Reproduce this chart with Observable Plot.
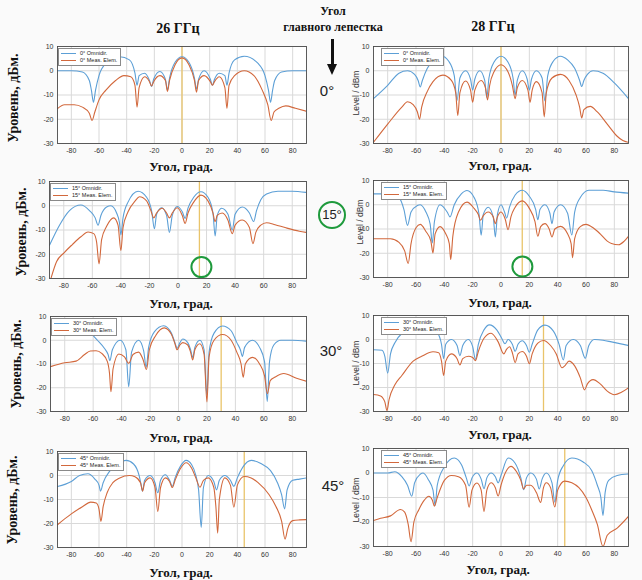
<!DOCTYPE html>
<html><head><meta charset="utf-8">
<script src="https://cdn.jsdelivr.net/npm/d3@7"></script>
<script src="https://cdn.jsdelivr.net/npm/@observablehq/plot@0.6"></script>
<style>
body{margin:0;background:#fafafa;}
#root{position:relative;width:642px;height:580px;overflow:hidden;background:#fafafa;}
.t{position:absolute;white-space:nowrap;transform:translate(-50%,-50%);color:#111;}
.serif{font-family:"Liberation Serif","DejaVu Serif",serif;font-weight:bold;}
.sans{font-family:"Liberation Sans",Arial,sans-serif;}
.leg{position:absolute;background:#fff;border:1px solid #8a8a8a;font-family:"Liberation Sans",Arial,sans-serif;font-size:5.5px;line-height:7px;padding:1px 3px 1px 2px;color:#222;}
.leg .row{display:flex;align-items:center;}
.leg .sw{display:inline-block;width:15px;height:0;border-top:1.2px solid;margin-right:4px;}
</style>
</head><body><div id="root"></div>
<script>
// ---- tick labels / categories ----
const xTicks = [-80, -60, -40, -20, 0, 20, 40, 60, 80];
const yTicks = [-30, -20, -10, 0, 10];
const frequencies = ["26 ГГц", "28 ГГц"];
const beamAngles = [0, 15, 30, 45];
const seriesNames = ["Omnidir.", "Meas. Elem."];

// ---- series values [angle (deg), level (dBm)] ----
const omni26_0 = [[-90,0],[-80,0],[-72,-0.5],[-67,-4],[-65.5,-8],[-64,-13],[-62.5,-8],[-60,-2],[-55,3],[-45,5.8],[-38,4.5],[-34,-1],[-32.5,-6],[-31,-2],[-27,-1],[-23.5,-4],[-22,-6.5],[-20.5,-3.5],[-16,-0.3],[-12,-3.5],[-10.5,-8],[-9,-3],[-5,3.5],[0,5.8],[5,3.5],[9,-3],[10.5,-7.5],[12,-3.5],[16,0],[20.5,-3.5],[22,-6],[23.5,-3.5],[27,-1],[31,-2],[32.5,-6],[34,-1],[38,4.5],[45,6],[55,3],[60,-2],[62.5,-8],[64,-13],[65.5,-8],[67,-4],[72,-0.5],[80,0],[90,0]];
const meas26_0 = [[-90,-15.6],[-85,-14],[-78,-14],[-72,-15],[-67,-17.5],[-65,-20.5],[-63,-17],[-60,-12],[-55,-8],[-48,-4],[-42,-2],[-37,-2.5],[-34,-6],[-32.5,-15],[-31,-7],[-27,-2.5],[-23.5,-4.5],[-22,-6.3],[-20.5,-4.5],[-16,-2],[-12,-4],[-10.5,-8.5],[-9,-4],[-5,2.5],[0,5.3],[5,2.5],[9,-4],[10.5,-8.8],[12,-4],[16,-2],[20.5,-4.5],[22,-6],[23.5,-4.5],[27,-2.5],[31,-7],[32.5,-15.5],[34,-6],[38,-2],[45,0],[52,-2],[58,-8],[62,-14],[64.5,-20.5],[66.5,-17],[70,-15.5],[75,-14.5],[82,-15.5],[90,-16.7]];
const omni28_0 = [[-90,-11.5],[-80,-6],[-72,-1],[-66,0],[-61,-1.5],[-58.5,-4],[-57,-6.7],[-55.5,-4],[-52,1],[-47,4.5],[-42,6.1],[-37,4],[-33,-2],[-31,-12.2],[-29,-3],[-25,0],[-21.5,-3.5],[-20,-8],[-18.5,-3.5],[-15,0],[-11.5,-4],[-10,-11],[-8.5,-3],[-5,3.5],[0,6],[5,3.5],[8.5,-3],[10,-10],[11.5,-4],[15,0],[18.5,-3.5],[20,-8],[21.5,-3.5],[25,0],[29,-3],[31,-12.5],[33,-2],[37,4],[42,6],[47,4.5],[52,1],[55.5,-4],[57,-6.5],[58.5,-4],[61,-1.5],[65,0],[72,-1],[80,-5],[90,-11.5]];
const meas28_0 = [[-90,-29.5],[-80,-22],[-70,-15],[-66,-12.8],[-62,-14],[-59,-17],[-57.5,-20],[-56,-15],[-52,-8.5],[-48,-4.5],[-41,-1.8],[-35,-4],[-32,-9],[-30.5,-18.5],[-29,-9],[-25,-4.2],[-21.5,-8],[-20,-13],[-18.5,-8],[-14,-4],[-11,-7],[-9.5,-12],[-8,-6],[-5,-0.5],[0,2.5],[5,-0.5],[8,-6],[10,-11.5],[11.5,-7],[15,-4],[19,-8],[20.5,-13],[22,-8],[25,-4.5],[29,-9],[30.5,-19],[32,-9],[36,-3],[42,-1.5],[48,-4],[53,-10],[55.5,-15],[57,-19.5],[58.5,-16],[63,-14.7],[68,-17],[75,-22],[82,-27],[86,-28.8],[90,-29.5]];
const omni26_15 = [[-90,-16.3],[-83,-8],[-76,-2],[-68,0.3],[-62,-2],[-58,-5],[-56,-8],[-54,-4],[-50,-0.5],[-47,0],[-43,-3],[-41,-7],[-40,-12],[-38.5,-5],[-35,1.5],[-28,6],[-22,3.5],[-18.5,-2],[-16.5,-9.5],[-15,-3.5],[-11.5,-0.8],[-8,-4],[-6,-11],[-4,-4],[-0.5,-0.3],[3,-2.5],[5,-5.2],[7,-1],[11,3.5],[16,5.8],[21,3.5],[24.5,-3],[26,-12.5],[27.5,-4],[30.5,-1],[35,-3.5],[38,-10],[40,-3.5],[45,-0.5],[50,-3],[53,-6.5],[55,-2],[58,2.5],[62,4.8],[70,6],[80,6],[90,5.5]];
const meas26_15 = [[-89,-30],[-85,-23],[-80,-19.5],[-74,-16],[-68,-12.8],[-63,-10.8],[-59,-11.5],[-57,-15],[-55.3,-24],[-53.5,-14],[-50,-8.5],[-45,-5],[-42,-8],[-40,-18.5],[-38.5,-9],[-35,-2.5],[-30,2],[-27,3.7],[-22,2],[-19,-2],[-17,-5],[-15,-3],[-11,-1],[-8,-3],[-6,-5],[-4,-3],[-0.5,-0.8],[3,-4],[5,-7.3],[7,-3],[11,1.5],[16,4.4],[21,2],[24.5,-3],[26,-6.6],[27.5,-4],[31,-3],[35,-6],[38,-11.5],[40,-8],[45,-5.9],[50,-9],[52.5,-15.6],[54.5,-11],[58,-8],[62,-7],[68,-7.8],[75,-9],[85,-10.5],[90,-11]];
const omni28_15 = [[-90,4.5],[-80,4.5],[-72,2.9],[-68.5,-2],[-66,-8.5],[-63.5,-3],[-59,-0.3],[-57,0],[-53,-3],[-50,-8],[-48.5,-15.8],[-47,-7],[-43,0],[-38,-3],[-36,-5],[-33,0],[-28,4.5],[-24,5.9],[-19,3],[-15.5,-4],[-14,-12.6],[-12.5,-4],[-9,-1],[-5.5,-5],[-4,-13.3],[-2.5,-4],[0,0],[2.5,-3],[4,-5.5],[6,-1],[10,4],[15,6],[20,3.5],[24.5,-2],[26,-6.2],[27.5,-2],[31,0],[34.5,-3.5],[36,-7.8],[37.5,-3],[42,0],[47,-3.5],[50,-12.5],[52,-3],[56,3],[62,6],[72,6],[80,5.3],[90,4.8]];
const meas28_15 = [[-90,-14],[-78,-14],[-72,-15.5],[-68,-19],[-65.5,-24.2],[-63.5,-16],[-60,-9.5],[-57,-8.1],[-53,-11],[-49.5,-15],[-48,-19.9],[-46.5,-12],[-43,-9],[-39,-12],[-36.5,-16],[-35.5,-22.6],[-34,-13],[-30,-3],[-24,1.1],[-19,-1.5],[-16,-4],[-14.5,-6.4],[-12.5,-4.5],[-9,-3],[-5.5,-5],[-4,-7.8],[-2.5,-5],[0,-3],[3,-6],[5,-10.3],[7,-5],[10,-1],[15,1.6],[20,-1.5],[24,-7],[26,-13],[28,-9],[31,-7.8],[34,-10],[36,-13.3],[38,-10],[42,-8.9],[47,-12],[49.5,-16],[50.5,-21.8],[52,-14],[56,-9],[60,-8.1],[65,-9.5],[70,-12],[75,-15],[78,-16],[83,-16.5],[87,-15],[90,-13]];
const omni26_30 = [[-90,4.8],[-75,4.8],[-68,4.5],[-62,3],[-57,0],[-52,-3.5],[-49.5,-6],[-48.2,-8.6],[-46.5,-4],[-41,0],[-37,-4],[-35,-19.6],[-33,-5],[-28,0],[-24.5,-4.5],[-22.7,-11.4],[-21,-3],[-17,3.5],[-10.4,6.1],[-5,3],[-2.5,-1],[-1,-3.4],[1,-1],[3,0.5],[6.5,-1],[8.5,-4],[10,-7.2],[11.5,-3],[15,0],[18,-4],[19.9,-23],[21.5,-5],[25,3],[31,6],[37,4],[41,-1],[43.5,-4],[44.9,-6.8],[46.5,-3],[52,0],[57,-3],[60.5,-9],[62.4,-25.8],[64,-9],[67,-2],[72,0],[80,0],[90,-0.4]];
const meas26_30 = [[-90,-11.1],[-80,-9.5],[-72,-8.8],[-66,-6],[-62,-4.5],[-58,-4.4],[-54,-5.5],[-50,-9],[-48.5,-14],[-47.5,-21.7],[-46,-12],[-42,-5.8],[-38,-7],[-35,-9.7],[-32,-6],[-28,-5],[-25,-8],[-22.5,-12.3],[-20.5,-4],[-16,2],[-10,5.2],[-5,2.5],[-2.5,-1.5],[-1,-4],[1,-2],[3,-1],[6.5,-2],[8.5,-5],[10,-8.3],[11.5,-4],[15,-1.5],[18,-6],[20,-26],[21.5,-7],[25,0],[31,2.4],[37,0],[41,-5],[44,-10],[45.5,-15.6],[47,-10],[52,-7.2],[57,-10],[60.5,-15],[62.5,-22.5],[64.5,-17],[68,-15.5],[74,-14],[83,-16],[90,-17.3]];
const omni28_30 = [[-90,-4.3],[-84,-4.5],[-82,-7],[-80,-14],[-78,-6],[-75,-1.5],[-70,2.5],[-60,5],[-50,5],[-45,3],[-42,-2],[-40.5,-8],[-39,-2],[-35,0],[-31,-2.5],[-29,-6.7],[-27,-2.5],[-23,0],[-20,-3],[-18,-8.3],[-16,-2],[-12,4],[-8.2,6.1],[-3,4],[0.5,0.5],[2.8,-1.8],[5,0],[8,-2],[10,-4.9],[12,-2],[15,-0.5],[18,-2.5],[20,-5.3],[22,-2],[26,4],[31,6],[37,3.5],[41,-2],[44,-8.5],[46,-2.5],[51,0],[56,-2.5],[59.5,-7.8],[62,-2.5],[66,0],[72,-0.3],[78,-1],[90,-2.5]];
const meas28_30 = [[-90,-22.9],[-85,-23.5],[-82,-26],[-80.5,-29.6],[-79,-25],[-75,-19],[-70,-15],[-62,-9],[-56,-7],[-48,-5.1],[-44,-5.5],[-42,-9],[-40.5,-15],[-39,-9],[-35,-6],[-31,-8],[-29,-10.6],[-27,-8],[-23,-7],[-20,-7.5],[-18,-8.8],[-16,-5],[-12,0.5],[-7,2.6],[-2,-1],[2,-6],[4,-4],[6,-3],[8,-5.5],[10,-9.6],[12,-6],[15,-5],[18,-7],[20,-10.1],[22,-6],[26,-1.5],[30,-0.4],[35,-2.5],[39,-6],[43,-11.8],[45,-11],[48,-9],[52,-11],[56,-16],[59,-21],[61,-18.5],[65,-16.7],[70,-18.5],[75,-21.5],[80,-23],[85,-22],[90,-20.1]];
const omni26_45 = [[-90,-4.6],[-80,-2.5],[-74,0],[-68,0.7],[-63,-1.5],[-60,-4],[-58.9,-6.5],[-57,-3],[-52,2],[-45,5.5],[-40.4,6.3],[-35,4.8],[-31,0],[-29.5,-4],[-28.6,-6.5],[-27,-2],[-23,0],[-19.5,-3],[-17.5,-7.2],[-15.5,-2],[-12,0.3],[-9,-2],[-7,-4.5],[-5,-1],[-1,4],[3,6.3],[7,4.5],[10,0],[12,-6],[13.9,-21.6],[15.5,-5],[19,0],[23,-2.5],[25,-6],[27,-2],[31,0],[35,-2],[37.5,-4.5],[40,-1],[44,3.5],[50,6.3],[57,5],[64,2],[69,-3],[72,-8],[74.2,-13.9],[76,-6],[80,-2],[85,-1.5],[90,-1]];
const meas26_45 = [[-90,-20.5],[-80,-16],[-72,-13],[-66,-11.1],[-62,-11.5],[-60,-14],[-58.6,-19.1],[-57,-13],[-54,-7],[-50,-3],[-45,-1],[-38,0],[-34,-0.5],[-30,-3],[-28.5,-6.5],[-27,-3],[-23,-1],[-19.5,-5],[-17.5,-15],[-15.5,-5],[-12,-1],[-9,-2.5],[-7,-5],[-5,-2],[-1,3],[3,5.3],[7,3],[10,-1],[13,-4.9],[15.5,-2],[19,-1],[23,-5],[24.5,-13],[25.8,-24],[27,-10],[31,-1],[35,-4],[37.5,-13.2],[40,-4],[45,-0.4],[50,-1],[55,-3],[63,-8],[68,-13],[72,-19],[74.5,-26.5],[76.5,-22],[80,-18.8],[85,-18.5],[90,-18.4]];
const omni28_45 = [[-90,0],[-80,0],[-75,0.5],[-70,-1.5],[-66,-5],[-63,-9.5],[-61,-4],[-57,-0.5],[-55,0],[-51,-3],[-48,-7],[-46.5,-13.2],[-45,-5],[-40,2.5],[-33,6.1],[-28,3.5],[-24.5,-2],[-22.5,-5.3],[-20.5,-2],[-17,0],[-14,-2.5],[-12,-6.4],[-10,-2],[-7,0],[-4,-1.5],[-2,-4],[0,-1],[5,6.1],[10,4],[14,-2],[16,-6.8],[18,-2],[21,0],[25,-2.5],[27,-6.5],[29,-2.5],[32,0],[36,-4],[38,-11.9],[40,-3],[44,3],[50,6.1],[58,4.5],[64,1],[68,-5],[70.5,-10],[72,-17.3],[73.5,-8],[76,-3],[82,-1],[90,-0.4]];
const meas28_45 = [[-90,-19.4],[-85,-18.5],[-78,-17.5],[-71,-14.9],[-68,-16],[-65.5,-21],[-63.5,-28],[-61.5,-20],[-58,-15],[-54,-11],[-51,-9.5],[-48.5,-11],[-47,-13.5],[-45,-10],[-40,-3],[-35,-1],[-30,-1.5],[-25,-5],[-22.5,-14],[-20.5,-7],[-17,-4.1],[-14,-7],[-12,-15.7],[-10,-7],[-7,-4],[-4,-6],[-2,-9.4],[0,-5],[3,0],[7,2.7],[11,0.5],[14,-3],[16,-6.5],[18,-5],[21,-5],[25,-8],[28,-12],[30,-6],[32,-4],[35,-6],[38,-13.9],[40,-7],[45,-3.3],[50,-4],[55,-6],[60,-10],[64,-15],[68,-21],[72,-30],[75,-25.4],[82,-22.5],[90,-17.7]];

// green highlight marks (angle, level) in the 15° panels
const highlight26_15 = [[16.4, -25.3]];
const highlight28_15 = [[15.1, -25.5]];

// ---- layout ----
const root = document.getElementById("root");
const C_OMNI = "#5c9fd6", C_MEAS = "#d2683c", C_BEAM = "#e9c46a";

function txt(x, y, s, cls, css) {
  const d = document.createElement("div");
  d.className = "t " + cls;
  d.textContent = s;
  d.style.left = x + "px"; d.style.top = y + "px";
  if (css) Object.assign(d.style, css);
  root.appendChild(d);
  return d;
}

const panels = [
  {x0:57, x1:306, y0:46, y1:143, omni:omni26_0, meas:meas26_0, beam:0, col:0, xl:[181,167], yl:[14,98]},
  {x0:373, x1:628, y0:46, y1:143, omni:omni28_0, meas:meas28_0, beam:0, col:1, xl:[500,166], yl:[356,93]},
  {x0:49, x1:306, y0:181, y1:278, omni:omni26_15, meas:meas26_15, beam:15, col:0, xl:[181,304], yl:[22,232], hl:highlight26_15},
  {x0:373, x1:628, y0:180, y1:277, omni:omni28_15, meas:meas28_15, beam:15, col:1, xl:[500,303], yl:[360,222], hl:highlight28_15},
  {x0:50, x1:306, y0:316, y1:411, omni:omni26_30, meas:meas26_30, beam:30, col:0, xl:[181,438], yl:[17,364]},
  {x0:373, x1:628, y0:315, y1:411, omni:omni28_30, meas:meas28_30, beam:30, col:1, xl:[500,435], yl:[356,363]},
  {x0:57, x1:306, y0:451, y1:547, omni:omni26_45, meas:meas26_45, beam:45, col:0, xl:[181,573], yl:[13,500]},
  {x0:373, x1:628, y0:448, y1:546, omni:omni28_45, meas:meas28_45, beam:45, col:1, xl:[498,570], yl:[356,500]}
];

const mL = 24, mR = 6, mT = 6, mB = 16;
for (const p of panels) {
  const marks = [
    Plot.frame({fill: "white", stroke: null}),
    Plot.gridX({ticks: xTicks, stroke: "#d9d9d9", strokeOpacity: 1}),
    Plot.gridY({ticks: yTicks, stroke: "#d9d9d9", strokeOpacity: 1}),
    Plot.axisX({ticks: xTicks, tickSize: 0, tickPadding: 5, tickFormat: d => String(d), label: null}),
    Plot.axisY({ticks: yTicks, tickSize: 0, tickPadding: 4, tickFormat: d => String(d), label: null}),
    Plot.ruleX([p.beam], {stroke: C_BEAM, strokeWidth: 1.3}),
    Plot.line(p.omni, {x: d => d[0], y: d => d[1], stroke: C_OMNI, strokeWidth: 1.1, curve: "monotone-x", clip: true}),
    Plot.line(p.meas, {x: d => d[0], y: d => d[1], stroke: C_MEAS, strokeWidth: 1.1, curve: "monotone-x", clip: true}),
    Plot.frame({stroke: "#4a4a4a", strokeWidth: 0.9})
  ];
  if (p.hl) marks.push(Plot.dot(p.hl, {x: d => d[0], y: d => d[1], r: 10, stroke: "#1e9a3c", strokeWidth: 2, fill: "none"}));
  const chart = Plot.plot({
    width: (p.x1 - p.x0) + mL + mR,
    height: (p.y1 - p.y0) + mT + mB,
    marginLeft: mL, marginRight: mR, marginTop: mT, marginBottom: mB,
    x: {domain: [-90, 90]},
    y: {domain: [-30, 10]},
    style: {fontFamily: "'Liberation Sans', Arial, sans-serif", fontSize: "7px", color: "#333", background: "transparent", overflow: "visible"},
    marks
  });
  chart.style.position = "absolute";
  chart.style.left = (p.x0 - mL) + "px";
  chart.style.top = (p.y0 - mT) + "px";
  root.appendChild(chart);

  // legend
  const leg = document.createElement("div");
  leg.className = "leg";
  leg.style.left = (p.x0 + (p.col ? 8 : 1)) + "px";
  leg.style.top = (p.y0 + 2) + "px";
  [[C_OMNI, seriesNames[0]], [C_MEAS, seriesNames[1]]].forEach(([c, n]) => {
    const r = document.createElement("div"); r.className = "row";
    const sw = document.createElement("span"); sw.className = "sw"; sw.style.borderTopColor = c;
    const tx = document.createElement("span"); tx.textContent = p.beam + "° " + n;
    r.appendChild(sw); r.appendChild(tx); leg.appendChild(r);
  });
  root.appendChild(leg);

  // axis titles
  txt(p.xl[0], p.xl[1], "Угол, град.", "serif", {fontSize: "13px"});
  if (p.col === 0) txt(p.yl[0], p.yl[1], "Уровень, дБм.", "serif", {fontSize: "14px", transform: "translate(-50%,-50%) rotate(-90deg)"});
  else txt(p.yl[0], p.yl[1], "Level / dBm", "sans", {fontSize: "8.5px", transform: "translate(-50%,-50%) rotate(-90deg)", color: "#333"});
}

// headers
txt(178, 29, frequencies[0], "serif", {fontSize: "14px"});
txt(493, 27, frequencies[1], "serif", {fontSize: "14px"});
txt(333, 11, "Угол", "serif", {fontSize: "12px", fontWeight: "bold"});
txt(333, 27, "главного лепестка", "serif", {fontSize: "12px", fontWeight: "bold"});
// arrow
const shaft = document.createElement("div");
Object.assign(shaft.style, {position: "absolute", left: "331px", top: "39px", width: "3px", height: "26px", background: "#111"});
root.appendChild(shaft);
const head = document.createElement("div");
Object.assign(head.style, {position: "absolute", left: "327px", top: "64px", width: 0, height: 0, borderLeft: "5.5px solid transparent", borderRight: "5.5px solid transparent", borderTop: "11px solid #111"});
root.appendChild(head);

// beam angle labels
const angleY = [90, 215, 350, 485];
const angleX = [327, 332, 331, 333];
beamAngles.forEach((a, i) => {
  const d = txt(angleX[i], angleY[i], a + "°", "sans", {fontSize: "15px", color: "#222"});
  if (a === 15) Object.assign(d.style, {border: "2px solid #1e9a3c", borderRadius: "50%", width: "24px", height: "24px", lineHeight: "24px", textAlign: "center", fontSize: "13px"});
});
</script></body></html>
